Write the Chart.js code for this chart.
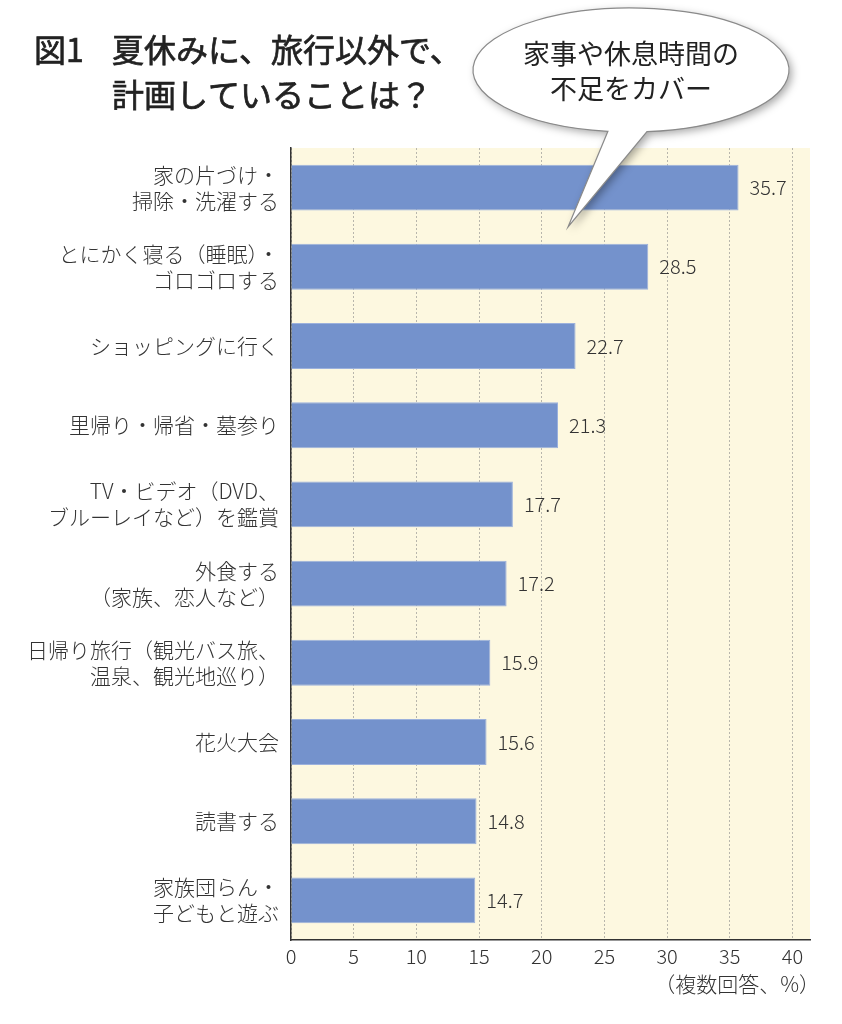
<!DOCTYPE html>
<html>
<head>
<meta charset="utf-8">
<script src="https://cdn.jsdelivr.net/npm/chart.js@4"></script>
<style>
  body { margin: 0; background: #fff; }
  canvas { display: block; }
</style>
</head>
<body>
<canvas id="chart" width="842" height="1024"></canvas>
<script>
// data
const categories = [
    ['家の片づけ・', '掃除・洗濯する'],
    ['とにかく寝る（睡眠）・', 'ゴロゴロする'],
    'ショッピングに行く',
    '里帰り・帰省・墓参り',
    ['TV・ビデオ（DVD、', 'ブルーレイなど）を鑑賞'],
    ['外食する', '（家族、恋人など）'],
    ['日帰り旅行（観光バス旅、', '温泉、観光地巡り）'],
    '花火大会',
    '読書する',
    ['家族団らん・', '子どもと遊ぶ'],
];
const values = [35.7, 28.5, 22.7, 21.3, 17.7, 17.2, 15.9, 15.6, 14.8, 14.7];
const xTicks = [0, 5, 10, 15, 20, 25, 30, 35, 40];

const titleLines = ['夏休みに、旅行以外で、', '計画していることは？'];
const bubbleLines = ['家事や休息時間の', '不足をカバー'];
const footnote = '（複数回答、%）';

const FONT = "'Noto Sans CJK JP', 'Noto Sans', sans-serif";
Chart.defaults.font.family = FONT;
Chart.defaults.font.weight = 300;
Chart.defaults.color = '#333';

// cream plot background
const plotBg = {
    id: 'plotBg',
    beforeDraw(chart) {
        const { ctx, chartArea: a } = chart;
        ctx.save();
        ctx.fillStyle = '#fdf8e0';
        ctx.fillRect(a.left, a.top, a.right - a.left, a.bottom - a.top);
        ctx.restore();
    }
};

// value labels, title, footnote, speech bubble
const extras = {
    id: 'extras',
    afterDraw(chart) {
        const { ctx, chartArea: a } = chart;
        const meta = chart.getDatasetMeta(0);
        ctx.save();

        ctx.fillStyle = '#333';
        ctx.font = `300 20px ${FONT}`;
        ctx.textAlign = 'left';
        ctx.textBaseline = 'middle';
        meta.data.forEach((bar, i) => {
            ctx.fillText(values[i].toFixed(1), bar.x + 11, bar.y);
        });

        // title (regular weight, slightly thickened with a stroke)
        ctx.fillStyle = '#222';
        ctx.strokeStyle = '#222';
        ctx.lineWidth = 0.7;
        ctx.font = `400 32px ${FONT}`;
        [['図1', 34, 50], [titleLines[0], 112, 50], [titleLines[1], 112, 95]].forEach(([t, x, y]) => {
            ctx.fillText(t, x, y);
            ctx.strokeText(t, x, y);
        });

        // footnote
        ctx.fillStyle = '#333';
        ctx.font = `300 21px ${FONT}`;
        ctx.textAlign = 'right';
        ctx.fillText(footnote, a.right + 10, 984);

        // speech bubble
        const cx = 631, cy = 70, rx = 158, ry = 62;
        const a1 = 98.4 * Math.PI / 180, a2 = 84.2 * Math.PI / 180;
        ctx.beginPath();
        ctx.ellipse(cx, cy, rx, ry, 0, a1, a2, false);
        ctx.lineTo(568, 227);
        ctx.closePath();
        ctx.shadowColor = 'rgba(0,0,0,0.35)';
        ctx.shadowBlur = 8;
        ctx.shadowOffsetX = 3;
        ctx.shadowOffsetY = 3;
        ctx.fillStyle = '#fff';
        ctx.fill();
        ctx.shadowColor = 'transparent';
        ctx.strokeStyle = '#8a8a8a';
        ctx.lineWidth = 1.2;
        ctx.stroke();

        ctx.fillStyle = '#222';
        ctx.font = `400 27px ${FONT}`;
        ctx.textAlign = 'center';
        ctx.fillText(bubbleLines[0], cx, 54);
        ctx.fillText(bubbleLines[1], cx, 89);
        ctx.restore();
    }
};

const ctx = document.getElementById('chart').getContext('2d');
new Chart(ctx, {
    type: 'bar',
    data: {
        labels: categories,
        datasets: [{
            data: values,
            backgroundColor: '#7492cc',
            borderColor: '#9cb1dc',
            borderWidth: 1,
            barPercentage: 0.58,
            categoryPercentage: 1,
        }]
    },
    options: {
        indexAxis: 'y',
        responsive: false,
        animation: false,
        layout: { padding: { top: 148, right: 32, left: 0, bottom: 0 } },
        scales: {
            x: {
                min: 0,
                max: 41.4,
                afterBuildTicks: s => { s.ticks = xTicks.map(v => ({ value: v })); },
                afterFit: s => { s.height = 84; },
                ticks: {
                    includeBounds: false,
                    padding: 4,
                    color: '#333',
                    font: { size: 20, weight: 300 }
                },
                grid: {
                    color: '#b8b6ac',
                    drawTicks: false,
                    lineWidth: 1,
                },
                border: { color: '#333', width: 1.5, dash: [2, 2] }
            },
            y: {
                afterFit: s => { s.width = 291; },
                grid: { display: false },
                border: { color: '#333', width: 1.5 },
                ticks: {
                    padding: 4,
                    color: '#333',
                    font: { size: 21, weight: 300, lineHeight: 1.24 }
                }
            }
        },
        plugins: {
            legend: { display: false },
            tooltip: { enabled: false }
        }
    },
    plugins: [plotBg, extras]
});
</script>
</body>
</html>
